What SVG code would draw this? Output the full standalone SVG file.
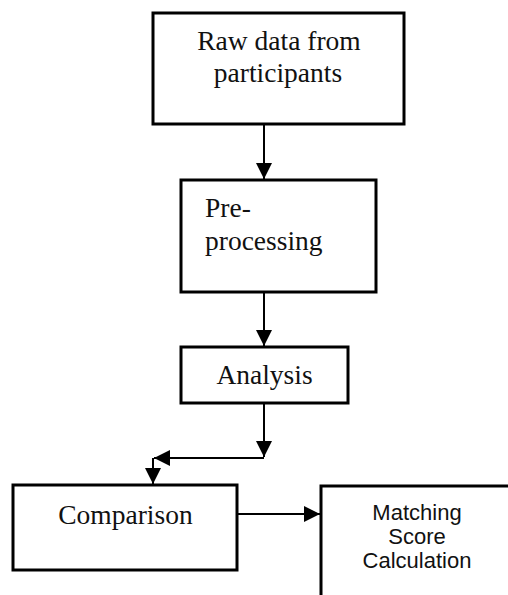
<svg xmlns="http://www.w3.org/2000/svg" width="508" height="595" viewBox="0 0 508 595">
  <defs>
    <marker id="ah" markerUnits="userSpaceOnUse" markerWidth="17" markerHeight="17" refX="16" refY="8" orient="auto" overflow="visible">
      <path d="M0,0 L16,8 L0,16 Z" fill="#000"/>
    </marker>
    <style>
      .box { fill: #fff; stroke: #000; stroke-width: 3; }
      .conn { fill: none; stroke: #000; stroke-width: 2; marker-end: url(#ah); }
      .serif { font-family: "Liberation Serif", "Times New Roman", serif; font-size: 27.5px; fill: #111; }
      .sans { font-family: "Liberation Sans", Arial, sans-serif; font-size: 22px; fill: #111; }
    </style>
  </defs>
  <rect width="508" height="595" fill="#fff"/>
  <g id="connectors">
    <path class="conn" d="M264,125 V179"/>
    <path class="conn" d="M264,292 V346"/>
    <path class="conn" d="M264,403 V457"/>
    <path class="conn" d="M264,458 H154"/>
    <path class="conn" d="M153,458 V484"/>
    <path class="conn" d="M237,514 H320"/>
  </g>
  <g id="raw-data">
    <rect class="box" x="153" y="13" width="251" height="111"/>
    <text class="serif" x="279" y="50" text-anchor="middle">Raw data from</text>
    <text class="serif" x="278" y="82" text-anchor="middle">participants</text>
  </g>
  <g id="pre-processing">
    <rect class="box" x="181" y="180" width="195" height="112"/>
    <text class="serif" x="205" y="217">Pre-</text>
    <text class="serif" x="205" y="250">processing</text>
  </g>
  <g id="analysis">
    <rect class="box" x="181" y="347" width="167" height="56"/>
    <text class="serif" x="264.5" y="384" text-anchor="middle">Analysis</text>
  </g>
  <g id="comparison">
    <rect class="box" x="13" y="485" width="224" height="85"/>
    <text class="serif" x="125.5" y="524" text-anchor="middle">Comparison</text>
  </g>
  <g id="matching">
    <rect class="box" x="321" y="486" width="220" height="140"/>
    <text class="sans" x="417" y="520" text-anchor="middle">Matching</text>
    <text class="sans" x="417" y="544" text-anchor="middle">Score</text>
    <text class="sans" x="417" y="568" text-anchor="middle">Calculation</text>
  </g>
</svg>
